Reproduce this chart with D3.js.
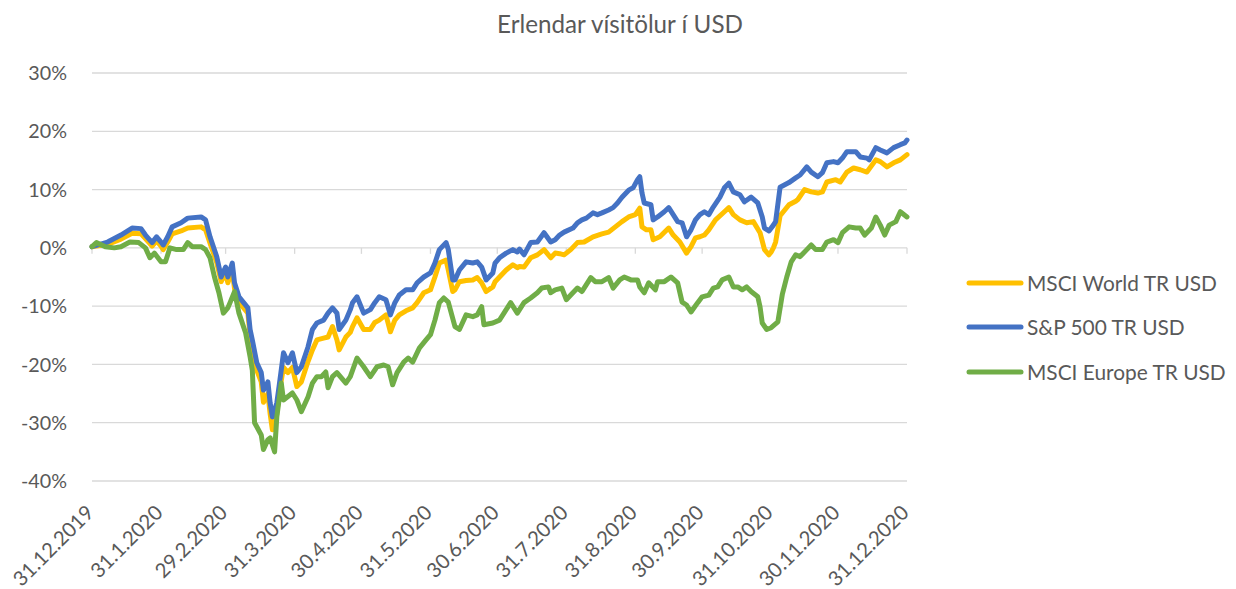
<!DOCTYPE html>
<html>
<head>
<meta charset="utf-8">
<script src="https://cdn.jsdelivr.net/npm/d3@7"></script>
<style>
  html, body { margin: 0; padding: 0; background: #fff; }
  svg { display: block; }
  text { font-family: Lato, "Open Sans", sans-serif; fill: #595959; }
</style>
</head>
<body>
<svg id="chart" width="1236" height="589"></svg>
<script>
// ---- DATA ----
const title = "Erlendar vísitölur í USD";
const startDate = "2019-12-31";
const tickDates = ["2019-12-31","2020-01-31","2020-02-29","2020-03-31","2020-04-30","2020-05-31",
                   "2020-06-30","2020-07-31","2020-08-31","2020-09-30","2020-10-31","2020-11-30","2020-12-31"];
const tickLabels = ["31.12.2019","31.1.2020","29.2.2020","31.3.2020","30.4.2020","31.5.2020",
                    "30.6.2020","31.7.2020","31.8.2020","30.9.2020","31.10.2020","30.11.2020","31.12.2020"];
const yTicks = [0.3, 0.2, 0.1, 0, -0.1, -0.2, -0.3, -0.4];
const seriesNames = ["MSCI World TR USD", "S&P 500 TR USD", "MSCI Europe TR USD"];
const seriesColors = ["#FFC000", "#4472C4", "#70AD47"];

// [days after 31.12.2019, return in %]
const msciWorld = [[0,0.2],[7,0.6],[13,1.5],[18,2.5],[22,2.4],[24,1.6],[27,0.3],[29,1.2],[31,0.3],[32,-0.3],[34,1.0],[36,2.4],[40,2.9],[43,3.4],[49,3.6],[51,3.1],[53,0.8],[56,-2.5],[58,-5.8],[60,-4.2],[61,-6],[63,-3.8],[64,-7],[66,-9.3],[70,-11.2],[71,-15],[72,-17],[74,-21],[76,-23],[77,-26.5],[79,-25],[80,-28.5],[81,-31.2],[83,-28.5],[84,-25],[86,-20.5],[88,-21.4],[90,-20.5],[92,-23.8],[94,-23],[97,-19.5],[99,-17.5],[101,-15.8],[104,-15.5],[106,-15.3],[108,-13.5],[110,-15.8],[111,-17.5],[114,-15.3],[116,-14.5],[117,-13.5],[119,-12],[122,-14],[125,-14],[127,-12.8],[129,-12.4],[132,-11.5],[134,-14.4],[136,-12.4],[138,-11.5],[141,-10.8],[144,-10.3],[146,-9.4],[149,-7.7],[152,-7.2],[154,-5],[156,-2.6],[159,-2.1],[160,-3.8],[162,-7.5],[163,-7.2],[165,-5.8],[168,-5.6],[171,-5.5],[173,-5.1],[175,-6],[177,-7.5],[180,-6.7],[181,-5.8],[183,-5],[186,-3.8],[189,-2.9],[191,-3.4],[192,-3.2],[194,-3.3],[197,-1.7],[200,-1.2],[203,-0.3],[206,-1.7],[208,-0.9],[210,-1.0],[212,-1.2],[215,-0.3],[218,0.9],[221,1.0],[225,1.9],[229,2.4],[232,2.7],[235,3.6],[238,4.5],[241,5.3],[244,5.7],[246,6.8],[247,3.6],[249,3.1],[251,3.1],[252,1.4],[255,1.9],[259,3.4],[261,2.2],[264,1.0],[267,-0.9],[269,0.2],[271,1.7],[273,1.9],[275,2.2],[277,3.1],[280,4.8],[284,6.2],[286,6.9],[288,5.7],[291,4.8],[294,4.3],[297,4.5],[300,2.6],[302,-0.3],[304,-1.2],[305,-0.7],[306,0],[307,1.0],[309,5.5],[313,7.4],[316,8.0],[317,8.3],[320,10.0],[323,9.6],[326,9.4],[328,9.6],[330,11.3],[334,11.7],[336,11.3],[339,13.0],[342,13.7],[345,13.4],[348,13.0],[352,15.1],[354,14.8],[357,13.9],[360,14.6],[363,15.1],[366,16.0]];

const sp500 = [[0,0.2],[7,1.0],[13,2.2],[18,3.4],[22,3.3],[24,2.2],[27,0.9],[29,1.9],[31,1.0],[32,0.5],[34,1.9],[36,3.6],[40,4.3],[43,5.1],[49,5.3],[51,4.8],[53,1.9],[56,-1.5],[58,-5.0],[60,-3.3],[61,-5],[63,-2.6],[64,-6],[66,-8.4],[70,-10.3],[71,-14],[72,-15.8],[74,-19.7],[76,-21.4],[77,-24.4],[79,-23],[80,-26.6],[81,-29],[83,-26.6],[84,-23.8],[86,-18],[88,-19.7],[90,-18],[92,-21.4],[94,-20.4],[97,-17],[99,-14],[101,-12.9],[104,-12.4],[106,-11.2],[108,-10.3],[110,-11.2],[111,-14],[114,-12.4],[116,-10.6],[117,-9.4],[119,-8.4],[122,-11.2],[125,-10.6],[127,-9.4],[129,-8.4],[132,-8.9],[134,-11.5],[136,-9.4],[138,-8.1],[141,-7.2],[144,-7.2],[146,-6],[149,-5],[152,-4.3],[154,-2.6],[156,-0.3],[159,0.9],[160,-0.3],[162,-5.5],[163,-5.5],[165,-3.8],[168,-2.4],[171,-2.6],[173,-2.4],[175,-3.3],[177,-5.5],[180,-4.3],[181,-2.6],[183,-1.7],[186,-0.9],[189,-0.3],[191,-0.7],[192,-0.2],[194,-1.2],[197,0.9],[200,1.0],[203,2.6],[206,1.0],[208,1.4],[210,2.2],[212,2.7],[216,3.4],[218,4.3],[220,4.8],[222,5.1],[225,6.0],[227,5.7],[229,6.0],[232,6.5],[234,6.9],[236,7.7],[238,8.7],[241,9.9],[243,10.3],[245,11.7],[246,12.2],[247,9.4],[248,7.7],[251,7.4],[252,4.8],[254,5.3],[257,6.2],[259,6.9],[261,5.7],[263,4.5],[265,4.3],[267,1.9],[269,3.1],[271,4.8],[273,5.7],[275,6.2],[277,5.7],[279,7.0],[282,8.7],[284,10.3],[286,11.1],[288,9.6],[291,9.1],[293,7.9],[296,8.7],[299,7.7],[301,5.3],[302,3.4],[304,2.9],[306,3.9],[307,4.5],[309,10.4],[313,11.2],[316,12.0],[318,12.5],[321,13.9],[323,13.0],[326,12.2],[328,12.9],[330,14.6],[333,14.8],[335,14.6],[337,15.4],[339,16.5],[343,16.5],[345,15.6],[348,15.4],[349,15.1],[352,17.2],[354,16.8],[357,16.3],[360,17.2],[363,17.7],[365,18.0],[366,18.5]];

const msciEurope = [[0,0.2],[2,0.9],[6,0.2],[10,0],[13,0.2],[17,1.0],[21,0.9],[24,0],[26,-1.7],[28,-0.9],[31,-2.4],[33,-2.4],[35,0],[38,-0.3],[41,-0.3],[43,0.9],[45,0.2],[49,0.2],[51,-0.3],[53,-1.7],[55,-5],[57,-7.7],[59,-11.2],[61,-10.3],[62,-9.4],[64,-7.5],[66,-11.2],[69,-14.6],[71,-18.7],[72,-21],[73,-30],[74,-30.7],[76,-32.1],[77,-34.6],[79,-32.9],[80,-32.6],[82,-35],[83,-29],[85,-23.2],[86,-26.1],[90,-24.9],[92,-26.1],[94,-28.1],[97,-25.6],[99,-23.2],[101,-22.1],[103,-22.1],[105,-21.3],[106,-24],[108,-22.1],[110,-21.4],[112,-22.3],[114,-23.2],[116,-22.1],[119,-18.9],[122,-20.4],[125,-22.1],[128,-20.4],[131,-20.1],[133,-20.4],[135,-23.5],[137,-21.4],[140,-19.6],[142,-18.9],[144,-19.6],[147,-17.2],[150,-15.8],[152,-14.9],[154,-12.4],[156,-9.4],[158,-8.6],[160,-9.3],[163,-13.5],[165,-14],[168,-11.5],[171,-11.8],[173,-11.5],[175,-10.1],[176,-13.2],[180,-12.9],[183,-12.4],[185,-11.2],[188,-9.4],[191,-11.2],[194,-9.4],[197,-8.6],[200,-7.7],[202,-6.9],[205,-6.7],[206,-7.7],[208,-7.2],[211,-6.9],[213,-8.9],[215,-8.1],[218,-6.9],[220,-7.5],[224,-5.1],[226,-5.8],[229,-5.8],[232,-5.1],[234,-6.9],[237,-5.5],[239,-5.0],[242,-5.5],[245,-5.5],[246,-6.7],[248,-7.7],[250,-6.0],[253,-7.2],[254,-5.8],[257,-5.8],[260,-5.0],[263,-6.0],[265,-9.3],[267,-9.8],[269,-11],[272,-9.4],[274,-8.4],[277,-8.1],[279,-6.9],[281,-6.7],[283,-5.5],[286,-5],[288,-6.7],[290,-6.7],[292,-7.2],[294,-6.7],[296,-7.5],[299,-8.4],[300,-10.1],[301,-12.9],[303,-14],[305,-13.7],[308,-12.7],[310,-8],[312,-5],[314,-2.4],[316,-1.2],[318,-1.5],[321,-0.3],[323,0.5],[325,-0.3],[328,-0.3],[330,1.0],[333,1.4],[335,0.9],[337,2.6],[340,3.6],[343,3.4],[345,3.4],[347,2.2],[350,3.4],[352,5.3],[354,3.9],[356,2.2],[358,3.9],[361,4.5],[363,6.2],[366,5.3]];

const seriesData = [msciWorld, sp500, msciEurope];

// ---- CHART ----
const svg = d3.select("#chart");
const parse = d3.timeParse("%Y-%m-%d");
const t0 = parse(startDate);

const x = d3.scaleTime().domain([t0, parse("2020-12-31")]).range([92, 907]);
const y = d3.scaleLinear().domain([-0.4, 0.3]).range([481, 73]);

// fit a text's font-size so that its width equals a target width
function fitSize(str, target, base) {
  const t = svg.append("text").attr("font-size", base).text(str);
  const w = t.node().getComputedTextLength();
  t.remove();
  return base * target / w;
}
const axisSize = fitSize("-40%", 46, 20);
const legendSize = fitSize("MSCI World TR USD", 190, 20);
const titleSize = fitSize(title, 246, 20);
const xLabSize = fitSize("31.12.2019", 104, 20);

// gridlines
svg.append("g").selectAll("line").data(yTicks).join("line")
  .attr("x1", x.range()[0]).attr("x2", x.range()[1])
  .attr("y1", d => y(d)).attr("y2", d => y(d))
  .attr("stroke", "#d9d9d9").attr("stroke-width", 1.3);

// y-axis labels
const fmt = d3.format(".0%");
svg.append("g").selectAll("text").data(yTicks).join("text")
  .attr("x", 67).attr("y", d => y(d))
  .attr("dy", "0.36em")
  .attr("text-anchor", "end")
  .attr("font-size", axisSize)
  .text(d => fmt(d).replace("−", "-"));

// category-axis tick marks (axis crosses at 0)
const tickTimes = tickDates.map(parse);
svg.append("g").selectAll("line").data(tickTimes).join("line")
  .attr("x1", d => x(d)).attr("x2", d => x(d))
  .attr("y1", y(0)).attr("y2", y(0) + 6)
  .attr("stroke", "#d9d9d9").attr("stroke-width", 1.3);

// x labels, rotated
svg.append("g").selectAll("text").data(tickTimes).join("text")
  .attr("transform", d => `translate(${x(d) + 3},${514}) rotate(-45)`)
  .attr("text-anchor", "end")
  .attr("font-size", xLabSize)
  .text((d, i) => tickLabels[i]);

// title
svg.append("text")
  .attr("x", 620).attr("y", 33)
  .attr("text-anchor", "middle")
  .attr("font-size", titleSize)
  .text(title);

// lines
const line = d3.line()
  .x(d => x(d3.timeDay.offset(t0, d[0])))
  .y(d => y(d[1] / 100));

svg.append("g").selectAll("path").data(seriesData).join("path")
  .attr("d", d => line(d))
  .attr("fill", "none")
  .attr("stroke", (d, i) => seriesColors[i])
  .attr("stroke-width", 5)
  .attr("stroke-linejoin", "round")
  .attr("stroke-linecap", "round");

// legend
const legendY = [283, 327, 372];
const lg = svg.append("g").selectAll("g").data(seriesNames).join("g")
  .attr("transform", (d, i) => `translate(0,${legendY[i]})`);
lg.append("line")
  .attr("x1", 969).attr("x2", 1021).attr("y1", 0).attr("y2", 0)
  .attr("stroke", (d, i) => seriesColors[i])
  .attr("stroke-width", 5).attr("stroke-linecap", "round");
lg.append("text")
  .attr("x", 1027).attr("y", 0).attr("dy", "0.36em")
  .attr("font-size", legendSize)
  .text(d => d);
</script>
</body>
</html>
